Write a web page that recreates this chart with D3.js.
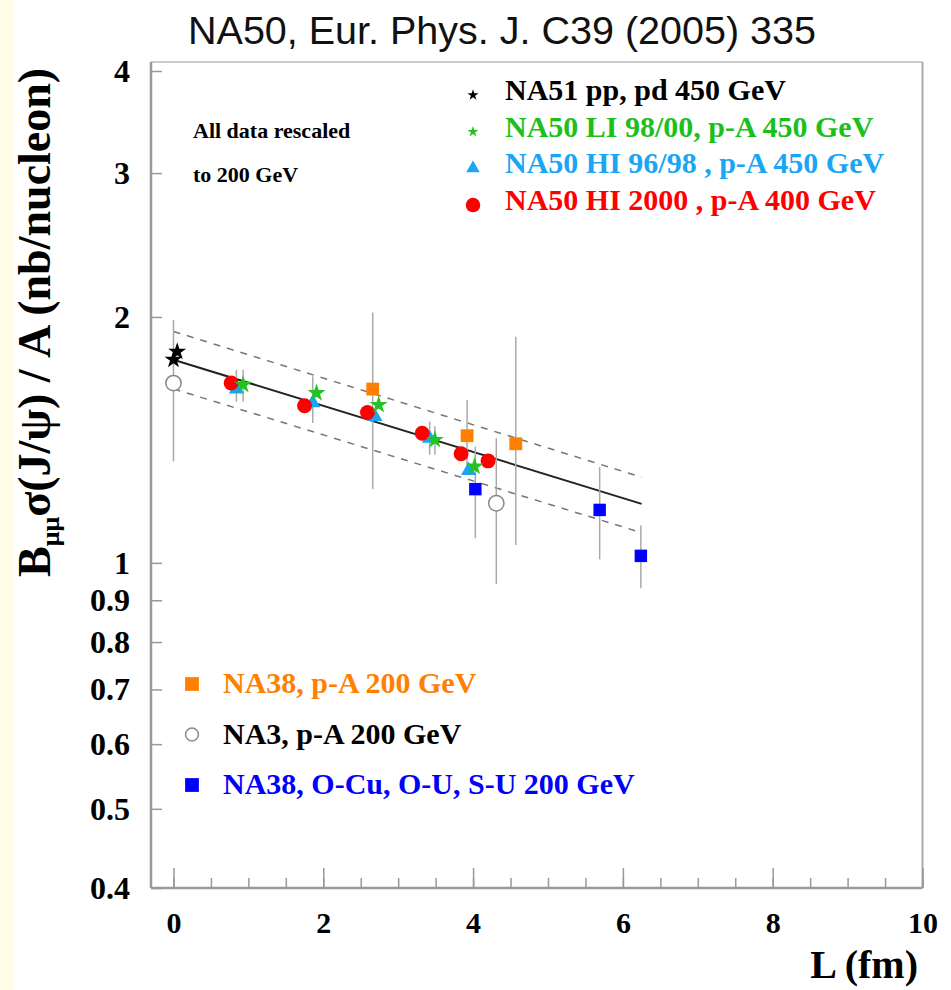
<!doctype html>
<html lang="en">
<head>
<meta charset="utf-8">
<title>NA50 J/psi cross-section vs L</title>
<style>
  body { margin: 0; background: #fff; }
  svg { display: block; }
  .serif { font-family: "Liberation Serif", "Times New Roman", serif; font-weight: bold; }
  .tick line { stroke: #999; stroke-width: 1.5; }
  .domain { display: none; }
  .errbar { stroke: #aaa; stroke-width: 1.5; }
</style>
</head>
<body></body>
<script src="https://d3js.org/d3.v7.min.js"></script>
<script>
    // values: L (fm), B*sigma/A (nb/nucleon), error bar ends
    const na51 = [{L: 0.00, v: 1.773}, {L: 0.05, v: 1.814}];
    const na50LI = [
        {L: 0.93, v: 1.652, lo: 1.575, hi: 1.723},
        {L: 1.91, v: 1.614},
        {L: 2.74, v: 1.561},
        {L: 3.49, v: 1.414, lo: 1.356, hi: 1.47},
        {L: 4.02, v: 1.312}
    ];
    const na50HI9698 = [
        {L: 0.84, v: 1.632, lo: 1.575, hi: 1.723},
        {L: 1.86, v: 1.57, lo: 1.483, hi: 1.692},
        {L: 2.69, v: 1.51},
        {L: 3.42, v: 1.42, lo: 1.356, hi: 1.489},
        {L: 3.94, v: 1.297}
    ];
    const na50HI2000 = [
        {L: 0.77, v: 1.66}, {L: 1.75, v: 1.557}, {L: 2.59, v: 1.528},
        {L: 3.32, v: 1.441}, {L: 3.84, v: 1.36}, {L: 4.20, v: 1.333}
    ];
    const na38pA = [
        {L: 2.66, v: 1.632, lo: 1.231, hi: 2.025},
        {L: 3.92, v: 1.431, lo: 1.29, hi: 1.583},
        {L: 4.57, v: 1.399, lo: 1.052, hi: 1.891}
    ];
    const na3 = [
        {L: 0.00, v: 1.66, lo: 1.331, hi: 1.984},
        {L: 4.31, v: 1.183, lo: 0.942, hi: 1.421}
    ];
    const na38AB = [
        {L: 4.03, v: 1.231, lo: 1.072, hi: 1.388},
        {L: 5.69, v: 1.161, lo: 1.01, hi: 1.31},
        {L: 6.24, v: 1.02, lo: 0.931, hi: 1.111}
    ];

    // exponential fit and its band (straight on the log axis)
    const fitL = [0, 6.25];
    const fitCentral = [1.773, 1.181];
    const fitUpper = [1.92, 1.273];
    const fitLower = [1.633, 1.089];

    const yTicks = [0.4, 0.5, 0.6, 0.7, 0.8, 0.9, 1, 2, 3, 4];
    const xMajor = [0, 2, 4, 6, 8, 10];

    const topLabels = ["NA51 pp, pd 450 GeV", "NA50 LI 98/00, p-A 450 GeV",
        "NA50 HI 96/98 , p-A 450 GeV", "NA50 HI 2000 , p-A 400 GeV"];
    const bottomLabels = ["NA38, p-A 200 GeV", "NA3, p-A 200 GeV", "NA38, O-Cu, O-U, S-U 200 GeV"];
    const noteLines = ["All data rescaled", "to 200 GeV"];

    const width = 951, height = 990;
    const plotTop = 62;

    const x = d3.scaleLinear().domain([-0.3, 10]).range([151, 922.5]);
    const y = d3.scaleLog().domain([0.4, 4]).range([888, 71]);

    const svg = d3.select('body').append('svg')
        .attr('width', width)
        .attr('height', height);

    // yellow strip at the left edge
    svg.append('rect').attr('x', 0).attr('y', 0).attr('width', 13).attr('height', height).attr('fill', '#fffde8');

    // title
    svg.append('text').text('NA50, Eur. Phys. J. C39 (2005) 335')
        .attr('x', 502).attr('y', 44)
        .attr('text-anchor', 'middle')
        .style('font-family', '"Liberation Sans", Arial, sans-serif')
        .style('font-size', '39.5px')
        .attr('fill', '#111');

    // frame
    const x0 = x.range()[0], x1 = x.range()[1], yb = y.range()[0];
    svg.append('line').attr('x1', x0).attr('x2', x1).attr('y1', plotTop).attr('y2', plotTop).attr('stroke', '#ccc').attr('stroke-width', 2);
    svg.append('line').attr('x1', x1).attr('x2', x1).attr('y1', plotTop).attr('y2', yb).attr('stroke', '#aaa').attr('stroke-width', 2);
    svg.append('line').attr('x1', x0).attr('x2', x0).attr('y1', plotTop).attr('y2', yb).attr('stroke', '#999').attr('stroke-width', 2.5);
    svg.append('line').attr('x1', x0).attr('x2', x1).attr('y1', yb).attr('y2', yb).attr('stroke', '#999').attr('stroke-width', 2.5);

    // x axis: minor ticks, then major ticks with labels
    svg.append('g')
        .attr('transform', `translate(0,${yb})`)
        .call(d3.axisBottom(x).tickValues(d3.range(0, 10.01, 0.5)).tickSize(-10).tickSizeOuter(0).tickFormat(''));
    const xAxis = svg.append('g')
        .attr('class', 'serif')
        .attr('transform', `translate(0,${yb})`)
        .call(d3.axisBottom(x).tickValues(xMajor).tickSize(-20).tickSizeOuter(0).tickPadding(24).tickFormat(d => d));
    xAxis.selectAll('text').attr('fill', '#000')
        .style('font-family', '"Liberation Serif", serif').style('font-weight', 'bold').style('font-size', '30px');

    // y axis
    const yAxis = svg.append('g')
        .attr('transform', `translate(${x0},0)`)
        .call(d3.axisLeft(y).tickValues(yTicks).tickSize(-11).tickSizeOuter(0).tickPadding(21).tickFormat(d => String(d)));
    yAxis.selectAll('text').attr('fill', '#000')
        .style('font-family', '"Liberation Serif", serif').style('font-weight', 'bold').style('font-size', '32px');

    // axis titles
    const yTitle = svg.append('text')
        .attr('class', 'serif')
        .attr('transform', 'translate(50,577) rotate(-90)')
        .style('font-size', '46px');
    yTitle.append('tspan').text('B');
    yTitle.append('tspan').text('μμ').style('font-size', '26px').attr('dy', 9);
    yTitle.append('tspan').text('σ(J/ψ) / A (nb/nucleon)').attr('dy', -9);

    svg.append('text').text('L (fm)')
        .attr('class', 'serif')
        .attr('x', 918).attr('y', 978)
        .attr('text-anchor', 'end')
        .style('font-size', '40px');

    // fit line and dashed band
    const fitLine = d3.line().x(d => x(d[0])).y(d => y(d[1]));
    svg.append('path').datum(d3.zip(fitL, fitUpper)).attr('d', fitLine)
        .attr('fill', 'none').attr('stroke', '#777').attr('stroke-width', 1.5).attr('stroke-dasharray', '7,7');
    svg.append('path').datum(d3.zip(fitL, fitLower)).attr('d', fitLine)
        .attr('fill', 'none').attr('stroke', '#777').attr('stroke-width', 1.5).attr('stroke-dasharray', '7,7');
    svg.append('path').datum(d3.zip(fitL, fitCentral)).attr('d', fitLine)
        .attr('fill', 'none').attr('stroke', '#222').attr('stroke-width', 2);

    const series = [
        {data: na50HI9698, type: d3.symbolTriangle, size: 100, fill: '#1aa6f5', stroke: 'none'},
        {data: na50HI2000, type: d3.symbolCircle, size: 175, fill: '#ff0000', stroke: 'none'},
        {data: na50LI, type: d3.symbolStar, size: 100, fill: '#22c322', stroke: 'none'},
        {data: na51, type: d3.symbolStar, size: 100, fill: '#000', stroke: 'none'},
        {data: na38pA, type: d3.symbolSquare, size: 165, fill: '#ff8000', stroke: 'none'},
        {data: na38AB, type: d3.symbolSquare, size: 155, fill: '#0000ff', stroke: 'none'},
        {data: na3, type: d3.symbolCircle, size: 185, fill: '#fff', stroke: '#888'}
    ];

    // Render error bars
    const allPoints = series.flatMap(s => s.data).filter(d => d.lo !== undefined);
    svg.append('g').selectAll('line').data(allPoints).enter().append('line')
        .attr('class', 'errbar')
        .attr('x1', d => x(d.L)).attr('x2', d => x(d.L))
        .attr('y1', d => y(d.lo)).attr('y2', d => y(d.hi));

    // Render markers
    for (let s of series) {
        svg.append('g').selectAll('path').data(s.data).enter().append('path')
            .attr('d', d3.symbol().type(s.type).size(s.size))
            .attr('transform', d => `translate(${x(d.L)},${y(d.v)})`)
            .attr('fill', s.fill)
            .attr('stroke', s.stroke)
            .attr('stroke-width', 1.5);
    }

    // Render legends
    const topLegend = [
        {type: d3.symbolStar, size: 38, fill: '#000', color: '#000'},
        {type: d3.symbolStar, size: 38, fill: '#22c322', color: '#1cbf1c'},
        {type: d3.symbolTriangle, size: 80, fill: '#1aa6f5', color: '#1aa6f5'},
        {type: d3.symbolCircle, size: 165, fill: '#ff0000', color: '#ff0000'}
    ];
    topLabels.forEach((label, i) => {
        let by = 100 + i * 36.7;
        svg.append('path')
            .attr('d', d3.symbol().type(topLegend[i].type).size(topLegend[i].size))
            .attr('transform', `translate(473,${by - 5})`)
            .attr('fill', topLegend[i].fill);
        svg.append('text').text(label)
            .attr('class', 'serif')
            .attr('x', 505).attr('y', by)
            .attr('fill', topLegend[i].color)
            .style('font-size', '30px');
    });

    noteLines.forEach((line, i) => {
        svg.append('text').text(line)
            .attr('class', 'serif')
            .attr('x', 193).attr('y', 138 + i * 44)
            .style('font-size', '22px');
    });

    const bottomLegend = [
        {type: d3.symbolSquare, size: 190, fill: '#ff8000', stroke: 'none', color: '#ff8000'},
        {type: d3.symbolCircle, size: 130, fill: '#fff', stroke: '#888', color: '#000'},
        {type: d3.symbolSquare, size: 190, fill: '#0000ff', stroke: 'none', color: '#0000ff'}
    ];
    bottomLabels.forEach((label, i) => {
        let by = 693 + i * 50.5;
        svg.append('path')
            .attr('d', d3.symbol().type(bottomLegend[i].type).size(bottomLegend[i].size))
            .attr('transform', `translate(192,${by - 9})`)
            .attr('fill', bottomLegend[i].fill)
            .attr('stroke', bottomLegend[i].stroke)
            .attr('stroke-width', 1.5);
        svg.append('text').text(label)
            .attr('class', 'serif')
            .attr('x', 223).attr('y', by)
            .attr('fill', bottomLegend[i].color)
            .style('font-size', '30px');
    });
</script>
</html>
